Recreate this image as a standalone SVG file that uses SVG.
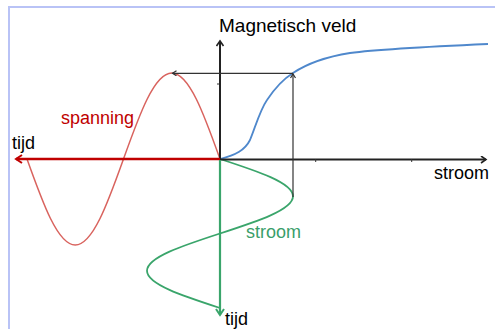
<svg xmlns="http://www.w3.org/2000/svg" width="495" height="329" viewBox="0 0 495 329">
  <style>
    text { font-family: "Liberation Sans", Arial, sans-serif; font-size: 18px; }
    .axis { stroke: #222; stroke-width: 2; fill: none; }
    .proj { stroke: #333; stroke-width: 1.2; fill: none; }
    .border { stroke: #b9c3f6; stroke-width: 2; fill: none; }
    .red { stroke: #d9635e; stroke-width: 1.5; fill: none; }
    .green { stroke: #3aa56b; stroke-width: 1.8; fill: none; }
    .blue { stroke: #4f88cc; stroke-width: 1.8; fill: none; }
  </style>
  <defs>
    <marker id="arrBlack" markerWidth="10" markerHeight="10" refX="6" refY="4" orient="auto" markerUnits="userSpaceOnUse">
      <path d="M1,0.5 L6,4 L1,7.5" fill="none" stroke="#222" stroke-width="1.6"/>
    </marker>
    <marker id="arrThin" markerWidth="10" markerHeight="10" refX="5" refY="3" orient="auto" markerUnits="userSpaceOnUse">
      <path d="M1,0.5 L5,3 L1,5.5" fill="none" stroke="#333" stroke-width="1.2"/>
    </marker>
    <marker id="arrRed" markerWidth="12" markerHeight="12" refX="7" refY="5" orient="auto" markerUnits="userSpaceOnUse">
      <path d="M1,1 L7,5 L1,9" fill="none" stroke="#c00000" stroke-width="2"/>
    </marker>
    <marker id="arrGreen" markerWidth="12" markerHeight="12" refX="7" refY="5" orient="auto" markerUnits="userSpaceOnUse">
      <path d="M1,1 L7,5 L1,9" fill="none" stroke="#3aa56b" stroke-width="2"/>
    </marker>
  </defs>

  <g id="border">
    <path class="border" d="M9,329 L9,7 L495,7"/>
  </g>

  <g id="curves">
    <path id="spanning-curve" class="red" d="M220,159 C204.26,114.94 189.21,73 171.75,73 C154.29,73 139.24,114.94 123.5,159 C107.76,203.06 92.71,245 75.25,245 C57.79,245 42.74,203.06 27,159"/>
    <path id="stroom-curve" class="green" d="M220,159 C257.4,171.15 293,182.77 293,196.25 C293,209.73 257.4,221.35 220,233.5 C182.6,245.65 147,257.27 147,270.75 C147,284.23 182.6,295.85 220,308"/>
    <path id="magnetisatie-curve" class="blue" d="M220,159 C236,155 245,150 250,140 C255,128 260,110 267,100 C275,88 285,78 293,73 C305,65 325,57 350,53 C380,49 420,47 488,44"/>
  </g>

  <g id="connectors">
    <line id="axis-veld" class="axis" x1="220" y1="159" x2="220" y2="41" marker-end="url(#arrBlack)"/>
    <line id="axis-stroom" class="axis" x1="220" y1="159.5" x2="486" y2="159.5" marker-end="url(#arrBlack)"/>
    <line id="axis-tijd-red" stroke="#c00000" stroke-width="2.5" x1="220" y1="159" x2="16" y2="159" marker-end="url(#arrRed)"/>
    <line id="axis-tijd-green" stroke="#3aa56b" stroke-width="2.2" x1="220" y1="160" x2="220" y2="315" marker-end="url(#arrGreen)"/>
    <line id="proj-up" class="proj" x1="293" y1="197" x2="293" y2="74" marker-end="url(#arrThin)"/>
    <line id="proj-left" class="proj" x1="293" y1="73.3" x2="172.5" y2="73.3" marker-end="url(#arrThin)"/>
    <g stroke="#333" stroke-width="1">
      <line x1="315.7" y1="159" x2="315.7" y2="162"/>
      <line x1="411.7" y1="159" x2="411.7" y2="162"/>
      <line x1="217" y1="84" x2="219" y2="84"/>
    </g>
  </g>

  <g id="labels">
    <text id="lbl-veld" x="219" y="31.5" style="font-size:19px" fill="#000">Magnetisch veld</text>
    <text id="lbl-stroom-axis" x="434" y="179" fill="#000">stroom</text>
    <text id="lbl-tijd-left" x="12" y="149" fill="#000">tijd</text>
    <text id="lbl-spanning" x="61" y="124" fill="#c00000">spanning</text>
    <text id="lbl-stroom-curve" x="246" y="238" fill="#3a9e6a">stroom</text>
    <text id="lbl-tijd-bottom" x="225" y="324.5" fill="#000">tijd</text>
  </g>
</svg>
